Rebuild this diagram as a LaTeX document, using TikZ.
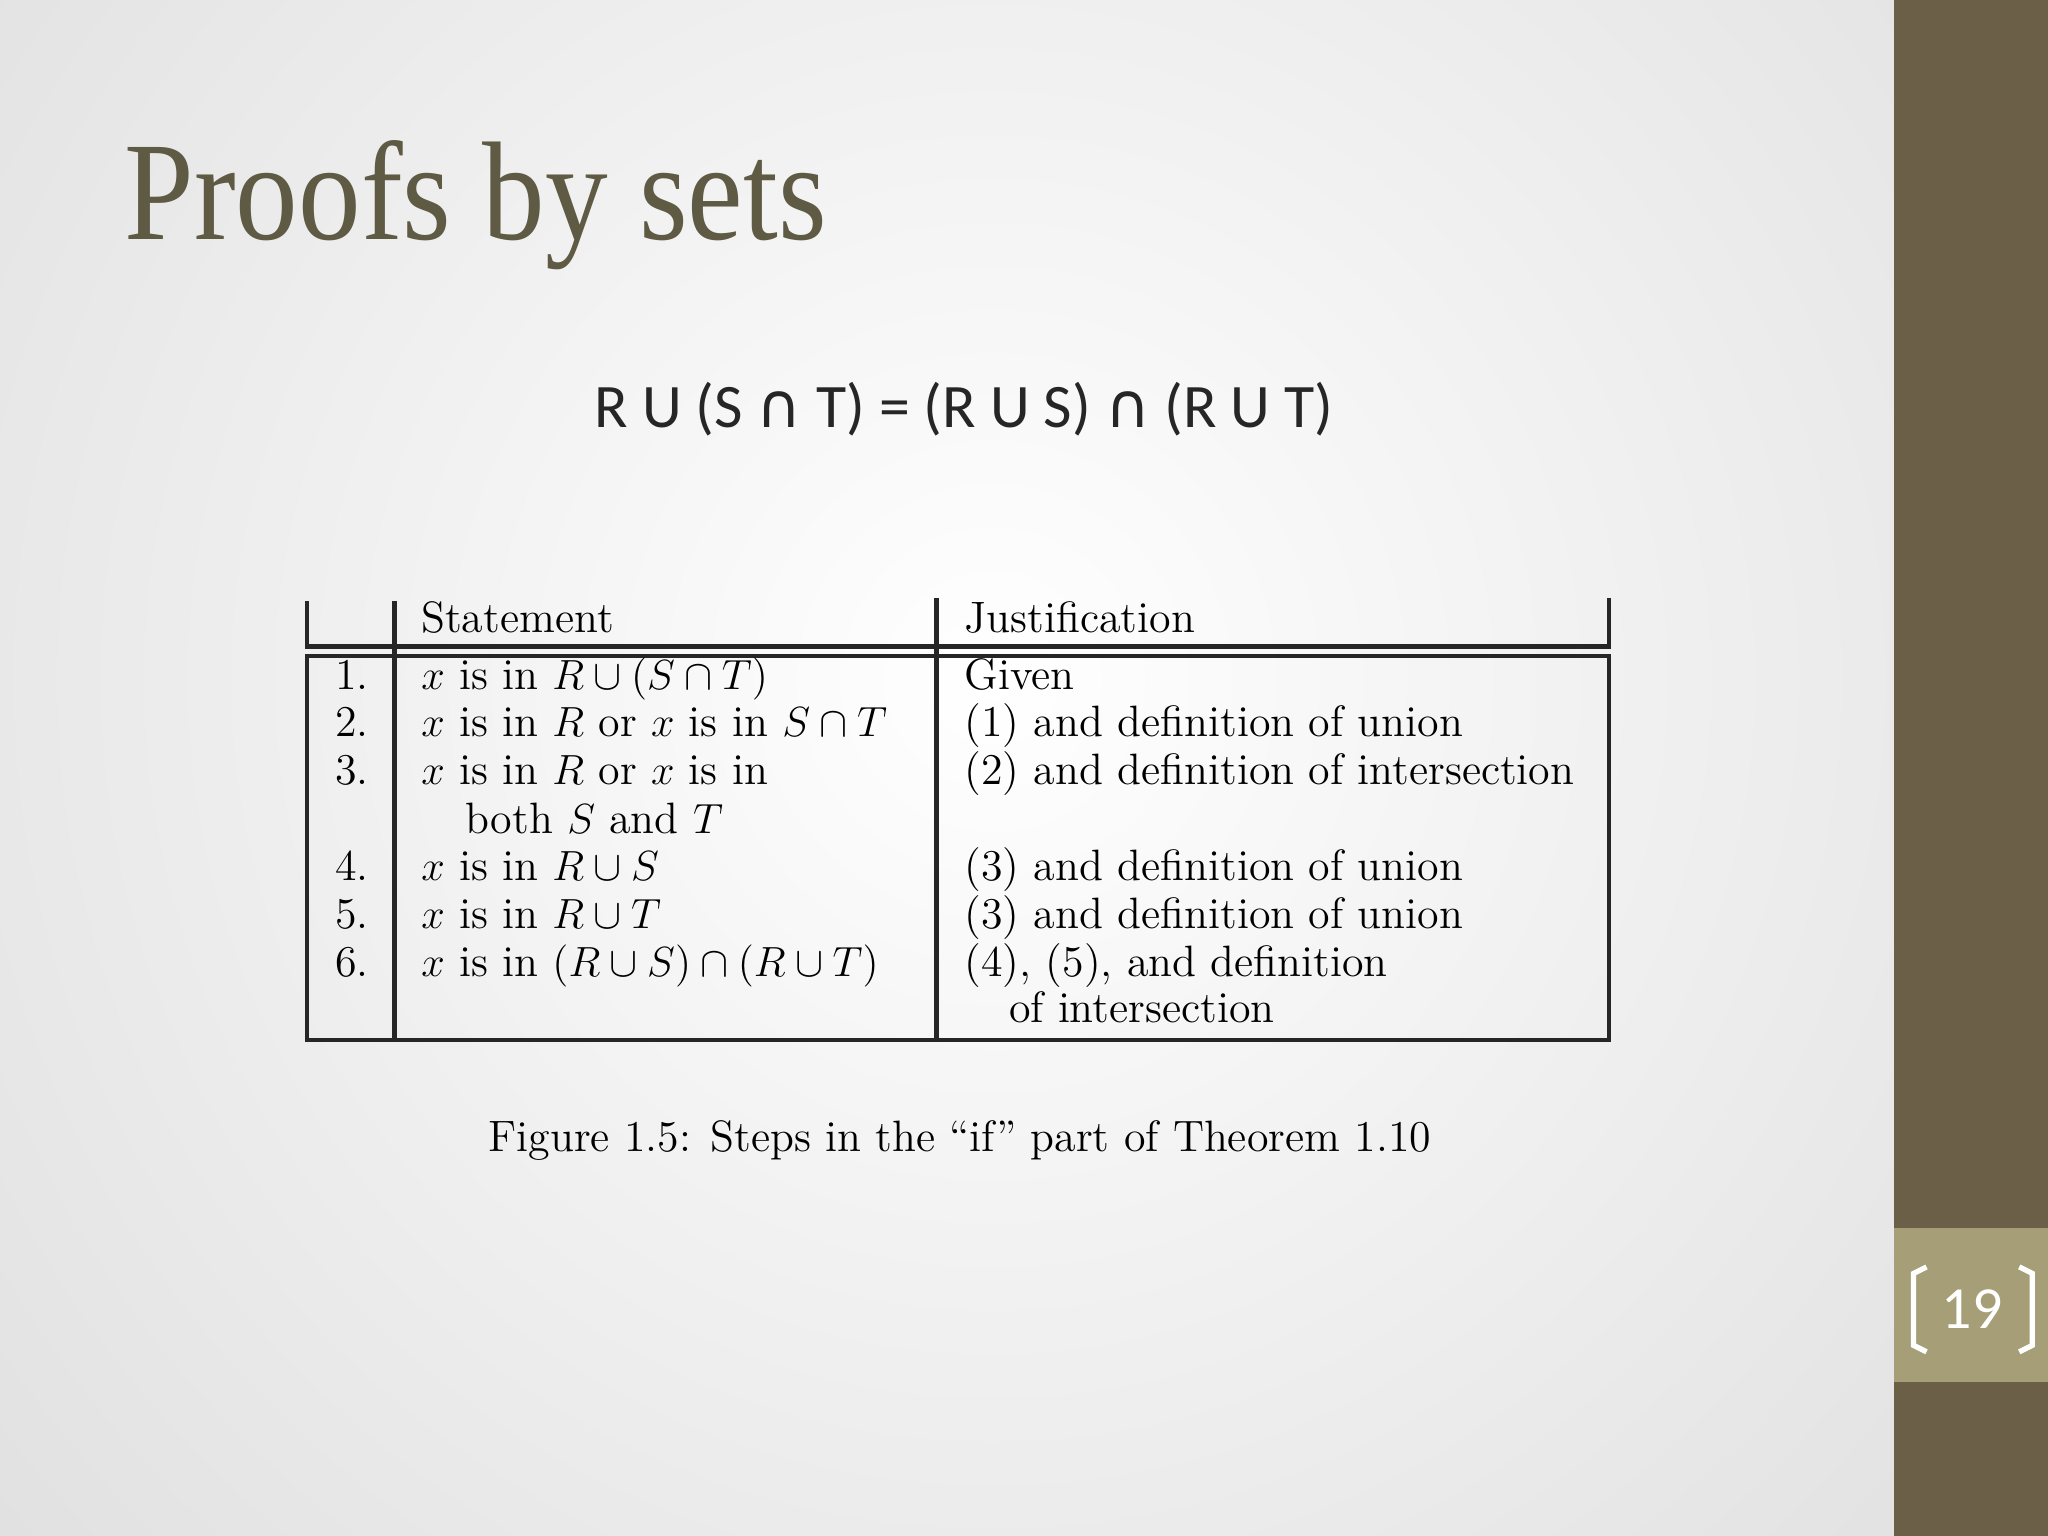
\documentclass[tikz,border=0pt]{standalone}
\usepackage{fontspec}
\newfontfamily\titlefont{Liberation Serif}
\newfontfamily\eqfont{Carlito}
\newfontfamily\djv{DejaVu Sans}
\definecolor{barc}{HTML}{6B5F47}
\definecolor{boxc}{HTML}{A69E76}
\definecolor{titc}{HTML}{5E5A44}
\begin{document}
\begin{tikzpicture}[x=0.013061cm,y=-0.013061cm,
  cell/.style={anchor=base west,inner sep=0pt,font=\fontsize{12.5}{14}\selectfont},
  tl/.style={line width=1.2pt,black!85}]
\useasboundingbox (0,0) rectangle (1568,1176);
\begin{scope}
\clip (0,0) rectangle (1568,1176);
\shade[inner color=white,outer color=black!20] (760,520) circle (1700);
\end{scope}
\fill[barc] (1450,0) rectangle (1568,1176);
\fill[boxc] (1450,940) rectangle (1568,1058);
\draw[white,line width=1.5pt] (1475,970) -- (1465,975) -- (1465,1030) -- (1475,1035);
\draw[white,line width=1.5pt] (1546,970) -- (1556,975) -- (1556,1030) -- (1546,1035);
\node[white,font=\eqfont\fontsize{17}{20}\selectfont] (pg) at (1510,1002) {19};
\node[anchor=base west,inner sep=0pt,text=titc,font=\titlefont\fontsize{40}{44}\selectfont,xscale=0.89] (title) at (95,183) {Proofs by sets};
\node[anchor=base,inner sep=0pt,text=black!85,font=\eqfont\fontsize{17.6}{22}\selectfont] (eq) at (738,327) {R U (S {\djv ∩} T) = (R U S) {\djv ∩} (R U T)};
% table lines
\draw[tl] (235,460) -- (235,497);
\draw[tl] (302,460) -- (302,796);
\draw[tl] (717,458) -- (717,796);
\draw[tl] (1232,458) -- (1232,497);
\draw[tl] (235,495) -- (1232,495);
\draw[tl] (235,502) rectangle (1232,796);
% header
\node[cell] (h1) at (322,484) {Statement};
\node[cell] (h2) at (738,484) {Justification};
% rows
\node[cell] (n1) at (256,528) {1.};
\node[cell] (s1) at (322,528) {$x$ is in $R\cup(S\cap T)$};
\node[cell] (j1) at (738,528) {Given};
\node[cell] (n2) at (256,564) {2.};
\node[cell] (s2) at (322,564) {$x$ is in $R$ or $x$ is in $S\cap T$};
\node[cell] (j2) at (738,564) {(1) and definition of union};
\node[cell] (n3) at (256,601) {3.};
\node[cell] (s3) at (322,601) {$x$ is in $R$ or $x$ is in};
\node[cell] (j3) at (738,601) {(2) and definition of intersection};
\node[cell] (s3b) at (356,638) {both $S$ and $T$};
\node[cell] (n4) at (256,674) {4.};
\node[cell] (s4) at (322,674) {$x$ is in $R\cup S$};
\node[cell] (j4) at (738,674) {(3) and definition of union};
\node[cell] (n5) at (256,711) {5.};
\node[cell] (s5) at (322,711) {$x$ is in $R\cup T$};
\node[cell] (j5) at (738,711) {(3) and definition of union};
\node[cell] (n6) at (256,748) {6.};
\node[cell] (s6) at (322,748) {$x$ is in $(R\cup S)\cap(R\cup T)$};
\node[cell] (j6) at (738,748) {(4), (5), and definition};
\node[cell] (j6b) at (772,783) {of intersection};
\node[anchor=base,inner sep=0pt,font=\fontsize{12.5}{14}\selectfont] (cap) at (735,882) {Figure 1.5: Steps in the ``if'' part of Theorem 1.10};
\end{tikzpicture}
\end{document}
